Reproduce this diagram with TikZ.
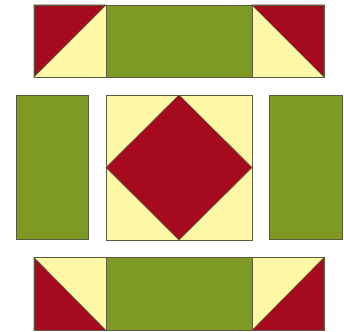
\documentclass[tikz,border=0pt]{standalone}
\usepackage{tikz}
\definecolor{qred}{HTML}{A60A1E}
\definecolor{qgreen}{HTML}{7F9925}
\definecolor{qyel}{HTML}{FDF8A6}
\definecolor{qedge}{HTML}{5A5A40}
\tikzset{
  patch/.style={draw=qedge, line width=0.6pt, line join=miter},
  redp/.style={patch, fill=qred},
  greenp/.style={patch, fill=qgreen},
  yelp/.style={patch, fill=qyel}
}
\begin{document}
\begin{tikzpicture}[x=1pt,y=-1pt]
\useasboundingbox (0,0) rectangle (344,331);
% top row
\fill[yelp] (34,5) rectangle (106,77);
\fill[redp] (34,5) -- (106,5) -- (34,77) -- cycle;
\draw[patch] (34,5) rectangle (106,77);
\draw[greenp] (106,5) rectangle (252,77);
\fill[yelp] (252,5) rectangle (324,77);
\fill[redp] (252,5) -- (324,5) -- (324,77) -- cycle;
\draw[patch] (252,5) rectangle (324,77);
% middle row
\draw[greenp] (16,95) rectangle (88.5,239);
\draw[yelp] (106,95) rectangle (252,240);
\draw[redp] (179,95) -- (252,167.5) -- (179,240) -- (106,167.5) -- cycle;
\draw[greenp] (269.5,95) rectangle (342,239);
% bottom row
\fill[yelp] (34,257.5) rectangle (106,330.5);
\fill[redp] (34,257.5) -- (106,330.5) -- (34,330.5) -- cycle;
\draw[patch] (34,257.5) rectangle (106,330.5);
\draw[greenp] (106,257.5) rectangle (252,330.5);
\fill[yelp] (252,257.5) rectangle (324,330.5);
\fill[redp] (324,257.5) -- (324,330.5) -- (252,330.5) -- cycle;
\draw[patch] (252,257.5) rectangle (324,330.5);
\end{tikzpicture}
\end{document}
